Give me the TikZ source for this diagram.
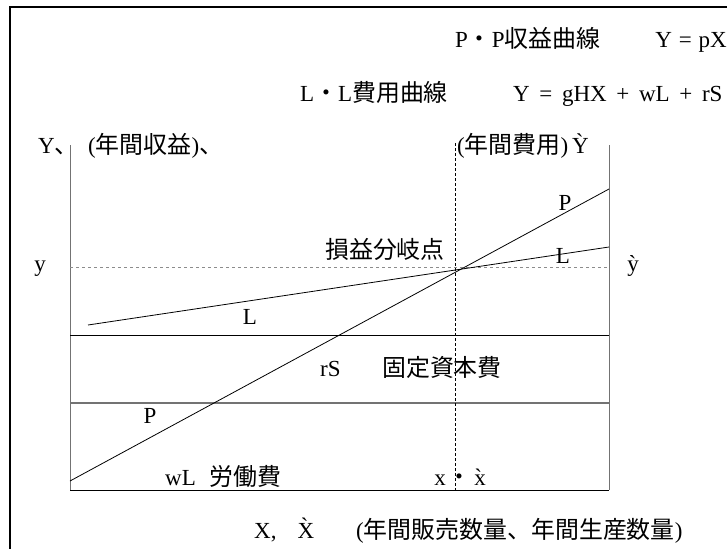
\documentclass[tikz,border=0pt]{standalone}
\usepackage{fontspec}
\setmainfont{Liberation Serif}
\newfontfamily\cjk{Noto Sans CJK JP}[Scale=1.04]
\begin{document}
\begin{tikzpicture}[x=1pt,y=-1pt,
  txt/.style={inner sep=0pt, anchor=base west, font=\fontsize{23}{25}\selectfont},
  ctxt/.style={inner sep=0pt, anchor=base, font=\fontsize{23}{25}\selectfont},
  etxt/.style={inner sep=0pt, anchor=base east, font=\fontsize{23}{25}\selectfont},
  axisline/.style={draw=black!55, line width=1pt},
  rulebk/.style={draw=black, line width=1pt},
  rulegr/.style={draw=black!55, line width=1.6pt},
  curveline/.style={draw=black, line width=0.8pt},
  vdash/.style={draw=black, line width=0.8pt, dash pattern=on 3pt off 2pt},
  hdot/.style={draw=black!45, line width=0.8pt, dash pattern=on 3pt off 3pt},
  frameline/.style={draw=black, line width=2pt},
]
\useasboundingbox (0,0) rectangle (727,549);
\fill[white] (0,0) rectangle (727,549);
% frame
\coordinate (F1) at (727,7);
\coordinate (F2) at (9.5,7);
\coordinate (F3) at (9.5,549);
\draw[frameline] (F1) -- (F2) -- (F3);
% box
\coordinate (A) at (70,145);
\coordinate (B) at (70,490);
\coordinate (C) at (609,490);
\coordinate (D) at (609,145);
\draw[axisline] (A) -- (B);
\draw[axisline] (D) -- (C);
\draw[rulebk] (B) -- (C);
\coordinate (R1) at (70,335);
\coordinate (R2) at (609,335);
\draw[rulebk] (R1) -- (R2);
\coordinate (S1) at (70,403);
\coordinate (S2) at (609,403);
\draw[rulegr] (S1) -- (S2);
\coordinate (V1) at (455,143);
\coordinate (V2) at (455,490);
\draw[vdash] (V1) -- (V2);
\coordinate (H1) at (70,267);
\coordinate (H2) at (609,267);
\draw[hdot] (H1) -- (H2);
\coordinate (P0) at (70,481);
\coordinate (P1) at (609,189);
\draw[curveline] (P0) -- (P1);
\coordinate (L0) at (88,325);
\coordinate (L1) at (609,247);
\draw[curveline] (L0) -- (L1);
% top texts
\node[txt] (t1) at (455,47) {P{\cjk ・}P{\cjk 収益曲線}};
\node[etxt] (t2) at (727,47) {Y\hspace{0.3em}=\hspace{0.3em}pX};
\node[txt] (t3) at (300,101) {L{\cjk ・}L{\cjk 費用曲線}};
\node[txt] (t4) at (513,101) {Y\hspace{0.42em}=\hspace{0.42em}gHX\hspace{0.42em}+\hspace{0.42em}wL\hspace{0.42em}+\hspace{0.42em}rS};
% axis labels
\node[txt] (ya) at (38,153) {Y{\cjk 、}};
\node[txt] (yb) at (88,153) {({\cjk 年間収益}){\cjk 、}};
\node[txt] (yc) at (457,153) {({\cjk 年間費用})\,Ỳ};
\node[ctxt] (yl) at (40,271) {y};
\node[ctxt] (yr) at (633,271) {ỳ};
\node[txt] (be) at (325,258) {\cjk 損益分岐点};
\node[ctxt] (pu) at (565,210) {P};
\node[ctxt] (lu) at (563,263) {L};
\node[ctxt] (ll) at (250,324) {L};
\node[txt] (rs) at (320,376) {rS};
\node[txt] (rsj) at (382,376) {\cjk 固定資本費};
\node[ctxt] (pl) at (150,423) {P};
\node[txt] (wl) at (165,485) {wL};
\node[txt] (wlj) at (209,485) {\cjk 労働費};
\node[ctxt] (xa) at (440,485) {x};
\node[ctxt] (xd) at (459,485) {\cjk ・};
\node[ctxt] (xb) at (480,485) {\`{x}};
\node[txt] (Xa) at (254,538) {X,};
\node[ctxt] (Xb) at (306,538) {\`{X}};
\node[txt] (Xj) at (356,538) {({\cjk 年間販売数量、年間生産数量})};
\end{tikzpicture}
\end{document}
